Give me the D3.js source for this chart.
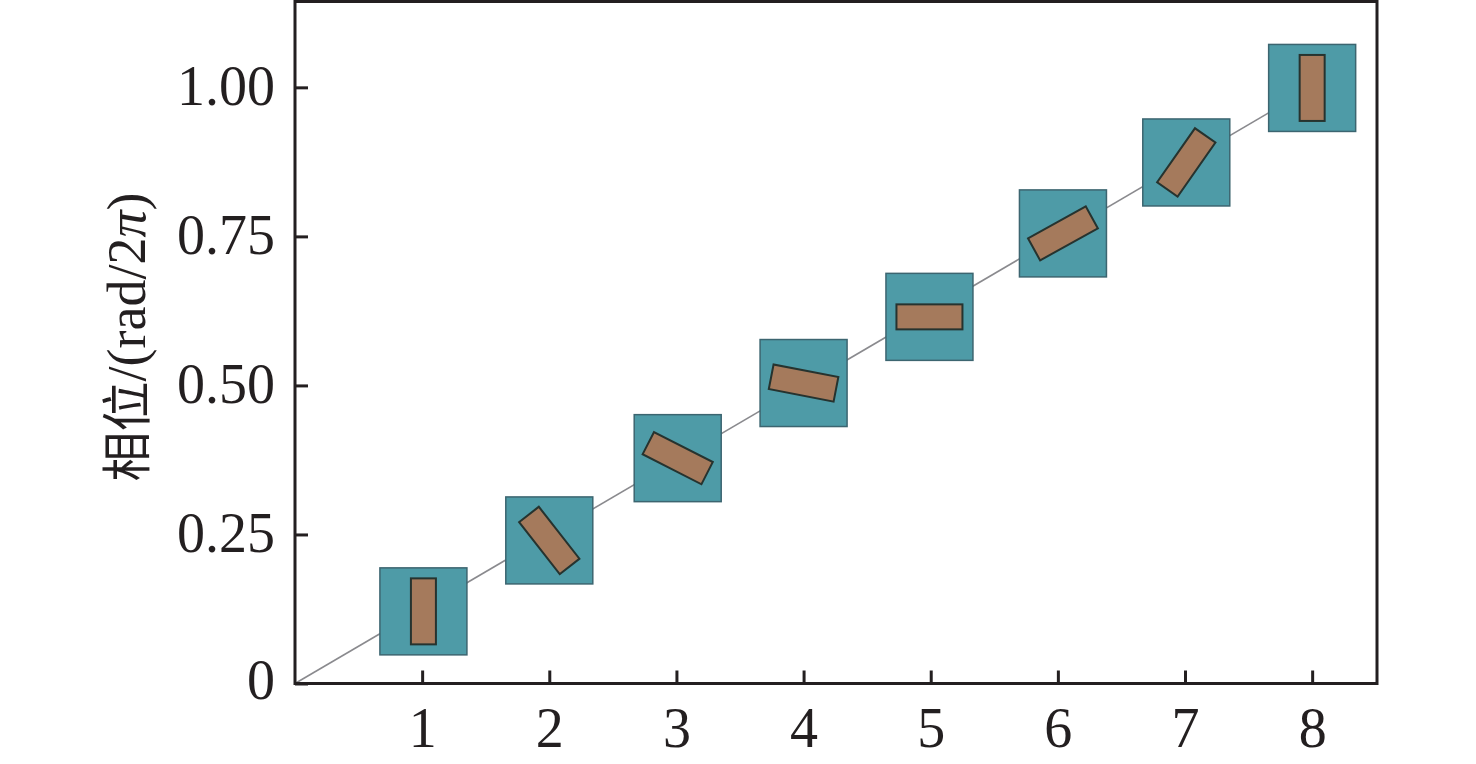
<!DOCTYPE html>
<meta charset="utf-8">
<style>
    body { margin: 0; background: white; }
    text { font-family: "Liberation Serif", "DejaVu Serif", serif; fill: #231f20; }
    .frame { fill: none; stroke: #231f20; stroke-width: 3px; }
    .tick line { stroke: #231f20; stroke-width: 3px; }
    .phase-line { stroke: #8a8a8e; stroke-width: 1.6px; fill: none; }
    .cell { fill: #4e9ba7; stroke: #3c6570; stroke-width: 1.5px; }
    .bar { fill: #a57a5c; stroke: #26332f; stroke-width: 2px; }
</style>
<body>
<svg id="chart" width="1476" height="764"></svg>
<script src="https://d3js.org/d3.v7.min.js"></script>
<script>
    // values
    const steps = [1, 2, 3, 4, 5, 6, 7, 8];
    const stepX = [1.01, 2, 3.01, 4, 4.99, 6.04, 7.01, 8];
    const phase = [0.121, 0.240, 0.378, 0.504, 0.615, 0.755, 0.874, 0.999];
    const angle = [90, 52, 27, 11, 0, -29, -55, 90];   // degrees, screen clockwise
    const yTicks = [0, 0.25, 0.5, 0.75, 1.0];
    const yTickLabels = ["0", "0.25", "0.50", "0.75", "1.00"];

    const svg = d3.select("#chart");
    const plotLeft = 295, plotRight = 1377, plotTop = 1.5, plotBottom = 683.5;

    const x = d3.scaleLinear().domain([0, 8.51]).range([plotLeft, plotRight]);
    const y = d3.scaleLinear().domain([0, 1.144]).range([plotBottom, plotTop]);

    // diagonal reference line under the cells
    svg.append("line")
        .attr("class", "phase-line")
        .attr("x1", x(0)).attr("y1", y(0))
        .attr("x2", x(8)).attr("y2", y(1));

    const cellSize = 87, barW = 66, barH = 25;

    const cells = svg.selectAll("g.cell-g")
        .data(steps)
        .enter()
        .append("g")
        .attr("class", "cell-g")
        .attr("transform", (d, i) => `translate(${x(stepX[i])},${y(phase[i])})`);

    cells.append("rect")
        .attr("class", "cell")
        .attr("x", -cellSize / 2).attr("y", -cellSize / 2)
        .attr("width", cellSize).attr("height", cellSize);

    cells.append("rect")
        .attr("class", "bar")
        .attr("x", -barW / 2).attr("y", -barH / 2)
        .attr("width", barW).attr("height", barH)
        .attr("transform", (d, i) => `rotate(${angle[i]})`);

    // axes: ticks point inward
    const yAxis = d3.axisLeft(y)
        .tickValues(yTicks)
        .tickFormat((d, i) => yTickLabels[i])
        .tickSizeInner(-13)
        .tickSizeOuter(0)
        .tickPadding(20);
    const gy = svg.append("g").attr("transform", `translate(${plotLeft},0)`).call(yAxis);
    gy.select(".domain").remove();
    gy.selectAll("text").attr("font-size", 56).attr("dy", "0.3em")
        .attr("font-family", "Liberation Serif").attr("fill", "#231f20");
    gy.selectAll(".tick").filter(d => d === 0).select("text").attr("dy", "0.26em");

    const xAxis = d3.axisBottom(x)
        .tickValues(steps)
        .tickFormat(d3.format("d"))
        .tickSizeInner(-13)
        .tickSizeOuter(0)
        .tickPadding(24);
    const gx = svg.append("g").attr("transform", `translate(0,${plotBottom})`).call(xAxis);
    gx.select(".domain").remove();
    gx.selectAll("text").attr("font-size", 56).attr("dy", "0.71em")
        .attr("font-family", "Liberation Serif").attr("fill", "#231f20");

    // frame box
    svg.append("rect")
        .attr("class", "frame")
        .attr("x", plotLeft).attr("y", plotTop)
        .attr("width", plotRight - plotLeft).attr("height", plotBottom - plotTop);

    // y axis title
    const title = svg.append("text")
        .attr("transform", `translate(145,337) rotate(-90)`)
        .attr("text-anchor", "middle")
        .attr("font-size", 54);
    title.append("tspan").attr("font-family", "Noto Sans CJK SC").attr("font-size", 50).text("相位");
    title.append("tspan").text("/(rad/2");
    title.append("tspan").attr("font-style", "italic").text("π");
    title.append("tspan").text(")");
</script>
</body>
